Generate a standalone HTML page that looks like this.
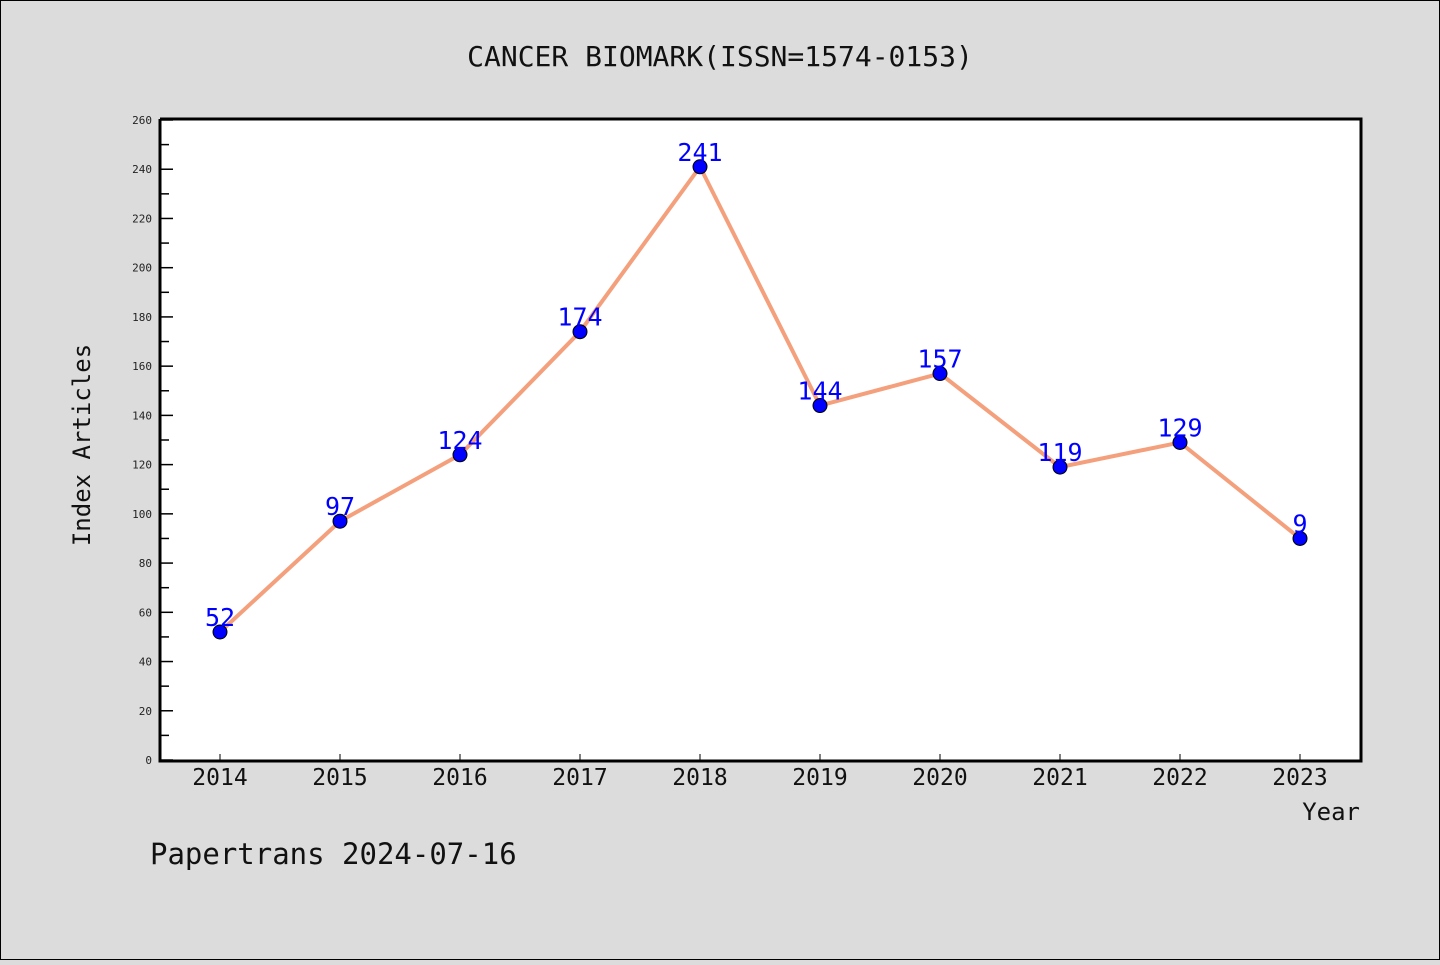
<!DOCTYPE html>
<html><head><meta charset="utf-8"><style>
body{margin:0;width:1440px;height:960px;background:#dcdcdc;overflow:hidden}
svg text{font-family:"WenQuanYi Zen Hei","DejaVu Sans Mono",sans-serif}
</style></head><body>
<svg id="c" width="1440" height="960">
<rect x="0.5" y="0.5" width="1439" height="959" fill="#dcdcdc" stroke="#000"/>
<text x="720" y="66" font-size="28" text-anchor="middle" fill="#111">CANCER BIOMARK(ISSN=1574-0153)</text>
<rect x="160" y="120" width="1201" height="640" fill="#fff"/>
<g id="ax"></g>
<g id="marks"></g>
<path d="M160 119 V761 H1361 V119 H160" fill="none" stroke="#000" stroke-width="3"/>
<text transform="translate(90,445) rotate(-90)" font-size="24" text-anchor="middle" fill="#111">Index Articles</text>
<text x="1360" y="820" font-size="24" text-anchor="end" fill="#111">Year</text>
<text x="150" y="864" font-size="29" fill="#111">Papertrans 2024-07-16</text>
</svg>
<script>
const years=["2014","2015","2016","2017","2018","2019","2020","2021","2022","2023"];
const values=[52,97,124,174,241,144,157,119,129,90];
const pointLabels=["52","97","124","174","241","144","157","119","129","9"];
const yTicks=[0,20,40,60,80,100,120,140,160,180,200,220,240,260];
const NS="http://www.w3.org/2000/svg";
const x=i=>220+i*120, y=v=>760-v*640/260;
function mk(t,a,p){const e=document.createElementNS(NS,t);for(const k in a)e.setAttribute(k,a[k]);p.appendChild(e);return e;}
const ax=document.getElementById('ax'),mg=document.getElementById('marks');
yTicks.forEach((v,i)=>{
 const l=mk('line',{x1:160,x2:173,y1:y(v),y2:y(v),stroke:'#000','stroke-width':1.5},ax);
 
 
 if(i<yTicks.length-1){const m=mk('line',{x1:160,x2:169,y1:y(v+10),y2:y(v+10),stroke:'#000','stroke-width':1.5},ax);
 
 }
 const t=mk('text',{x:152,y:y(v)+4,'font-size':11,'text-anchor':'end',fill:'#222'},ax);t.textContent=v;
 
 
});
years.forEach((yr,i)=>{
 const l=mk('line',{x1:x(i),x2:x(i),y1:760,y2:754,stroke:'#000','stroke-width':1},ax);
 
 
 const t=mk('text',{x:x(i),y:785,'font-size':23,'text-anchor':'middle',fill:'#111'},ax);t.textContent=yr;
 
 
});
const pl=mk('polyline',{points:values.map((v,i)=>x(i)+','+y(v)).join(' '),fill:'none',stroke:'#f4a07c','stroke-width':4},mg);


values.forEach((v,i)=>{
 const c=mk('circle',{cx:x(i),cy:y(v),r:7,fill:'#0000ff',stroke:'#000','stroke-width':1},mg);
 
 
 const t=mk('text',{x:x(i),y:y(v)-6,'font-size':25,'text-anchor':'middle',fill:'#0000ff'},mg);t.textContent=pointLabels[i];
 
 
});
</script>
</body></html>
